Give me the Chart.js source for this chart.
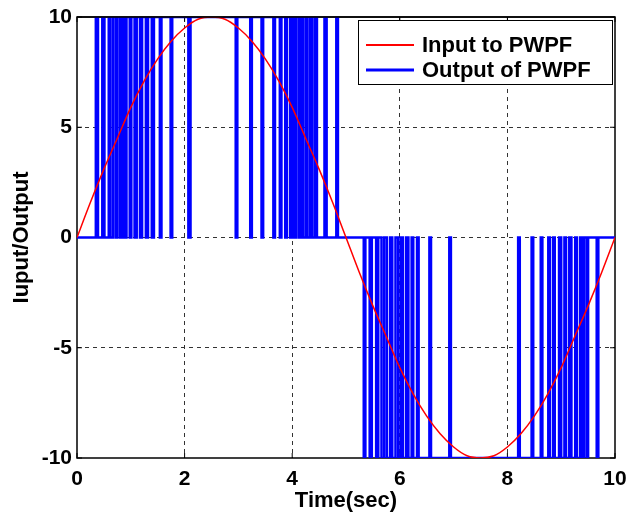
<!DOCTYPE html>
<html>
<head>
<meta charset="utf-8">
<script src="https://cdn.jsdelivr.net/npm/chart.js@4/dist/chart.umd.min.js"></script>
<style>
  html, body { margin: 0; padding: 0; background: #fff; }
</style>
</head>
<body>
<canvas id="canvas" width="626" height="519"></canvas>
<script>
// Input to PWPF, every 0.25 s
var inputTime = [0, 0.25, 0.5, 0.75, 1, 1.25, 1.5, 1.75, 2, 2.25, 2.5, 2.75, 3, 3.25, 3.5, 3.75, 4, 4.25, 4.5, 4.75,
                 5, 5.25, 5.5, 5.75, 6, 6.25, 6.5, 6.75, 7, 7.25, 7.5, 7.75, 8, 8.25, 8.5, 8.75, 9, 9.25, 9.5, 9.75, 10];
var inputValue = [0, 1.6, 3.1, 4.5, 5.9, 7.1, 8.1, 8.9, 9.5, 9.9, 10, 9.9, 9.5, 8.9, 8.1, 7.1, 5.9, 4.5, 3.1, 1.6,
                  0, -1.6, -3.1, -4.5, -5.9, -7.1, -8.1, -8.9, -9.5, -9.9, -10, -9.9, -9.5, -8.9, -8.1, -7.1, -5.9, -4.5, -3.1, -1.6, 0];

// Output of PWPF: on-times of the positive (+10) and negative (-10) pulses
var posStart = [0.35, 0.47, 0.59, 0.67, 0.75, 0.84, 0.92, 1.01, 1.11, 1.21, 1.32, 1.43, 1.57, 1.77, 2.11,
                2.98, 3.25, 3.46, 3.68, 3.80, 3.90, 4.00, 4.08, 4.16, 4.25, 4.33, 4.42, 4.60, 4.82];
var posEnd   = [0.39, 0.51, 0.62, 0.72, 0.80, 0.88, 0.98, 1.07, 1.17, 1.28, 1.39, 1.54, 1.74, 2.07, 2.95,
                3.22, 3.43, 3.65, 3.77, 3.87, 3.96, 4.04, 4.13, 4.20, 4.28, 4.37, 4.46, 4.64, 4.85];
var negStart = [5.33, 5.44, 5.56, 5.66, 5.76, 5.86, 5.97, 6.06, 6.16, 6.25, 6.35, 6.58, 6.95,
                8.23, 8.48, 8.65, 8.79, 8.88, 9.00, 9.09, 9.19, 9.29, 9.38, 9.47, 9.66];
var negEnd   = [5.36, 5.48, 5.60, 5.71, 5.82, 5.92, 6.02, 6.12, 6.22, 6.32, 6.55, 6.92, 8.20,
                8.45, 8.62, 8.76, 8.85, 8.96, 9.06, 9.15, 9.26, 9.35, 9.42, 9.50, 9.69];
var pulseHigh = 10;
var pulseLow = -10;

var xTicks = [0, 2, 4, 6, 8, 10];
var yTicks = [-10, -5, 0, 5, 10];
var seriesNames = ['Input to PWPF', 'Output of PWPF'];

var FONT = 'Liberation Sans, Arial, Helvetica, sans-serif';

function inputPoints() {
  var pts = [];
  for (var i = 0; i < inputTime.length; i++) pts.push({ x: inputTime[i], y: inputValue[i] });
  return pts;
}

// turn the on-times into a square wave
function outputPoints() {
  var pts = [{ x: 0, y: 0 }];
  function addPulses(starts, ends, level) {
    for (var i = 0; i < starts.length; i++) {
      pts.push({ x: starts[i], y: 0 }, { x: starts[i], y: level },
               { x: ends[i], y: level }, { x: ends[i], y: 0 });
    }
  }
  addPulses(posStart, posEnd, pulseHigh);
  addPulses(negStart, negEnd, pulseLow);
  pts.push({ x: 10, y: 0 });
  return pts;
}

// Box round the plot with small inward ticks, like matlab
var framePlugin = {
  id: 'frame',
  beforeDatasetsDraw: function (chart) {
    var ctx = chart.ctx, a = chart.chartArea;
    var sx = chart.scales.x, sy = chart.scales.y;
    ctx.save();
    ctx.strokeStyle = '#000';
    ctx.lineWidth = 1.5;
    ctx.strokeRect(a.left, a.top, a.right - a.left, a.bottom - a.top);
    ctx.lineWidth = 1;
    ctx.beginPath();
    xTicks.forEach(function (v) {
      var px = sx.getPixelForValue(v);
      ctx.moveTo(px, a.bottom); ctx.lineTo(px, a.bottom - 5);
      ctx.moveTo(px, a.top); ctx.lineTo(px, a.top + 5);
    });
    yTicks.forEach(function (v) {
      var py = sy.getPixelForValue(v);
      ctx.moveTo(a.left, py); ctx.lineTo(a.left + 5, py);
      ctx.moveTo(a.right, py); ctx.lineTo(a.right - 5, py);
    });
    ctx.stroke();
    ctx.restore();
  },
  afterDatasetsDraw: function (chart) {
    var ctx = chart.ctx, a = chart.chartArea;
    ctx.save();
    // top edge sits over the pulses
    ctx.strokeStyle = '#000';
    ctx.lineWidth = 1.5;
    ctx.beginPath();
    ctx.moveTo(a.left, a.top); ctx.lineTo(a.right, a.top);
    ctx.stroke();

    // legend box in the top right corner
    var w = 254, h = 64;
    var x0 = a.right - w - 3, y0 = a.top + 3;
    ctx.fillStyle = '#fff';
    ctx.fillRect(x0, y0, w, h);
    ctx.lineWidth = 1;
    ctx.strokeRect(x0 + 0.5, y0 + 0.5, w, h);
    ctx.font = 'bold 22px ' + FONT;
    ctx.textBaseline = 'middle';
    ctx.textAlign = 'left';
    chart.data.datasets.forEach(function (ds, i) {
      var y = y0 + 25 + i * 25;
      ctx.strokeStyle = ds.borderColor;
      ctx.lineWidth = ds.borderWidth + 0.5;
      ctx.beginPath();
      ctx.moveTo(x0 + 8, y); ctx.lineTo(x0 + 56, y);
      ctx.stroke();
      ctx.fillStyle = '#000';
      ctx.fillText(ds.label, x0 + 64, y + 1);
    });
    ctx.restore();
  }
};

var ctx = document.getElementById('canvas').getContext('2d');
var chart = new Chart(ctx, {
  type: 'line',
  data: {
    datasets: [{
      label: seriesNames[0],
      data: inputPoints(),
      borderColor: '#ff0000',
      borderWidth: 1.5,
      pointRadius: 0,
      fill: false,
      cubicInterpolationMode: 'monotone'
    }, {
      label: seriesNames[1],
      data: outputPoints(),
      borderColor: '#0000ff',
      borderWidth: 2.5,
      pointRadius: 0,
      fill: false,
      tension: 0
    }]
  },
  options: {
    responsive: false,
    animation: false,
    devicePixelRatio: 1,
    layout: { padding: { top: 17, right: 11, left: 0, bottom: 0 } },
    plugins: { legend: { display: false }, tooltip: { enabled: false } },
    scales: {
      x: {
        type: 'linear',
        min: 0, max: 10,
        afterBuildTicks: function (scale) { scale.ticks = xTicks.map(function (v) { return { value: v }; }); },
        afterFit: function (scale) {
          scale.height = 61;
          // don't let the end labels push the plot in
          scale.paddingLeft = 0;
          scale.paddingRight = 0;
        },
        grid: {
          color: function (c) { return (c.tick && (c.tick.value === 0 || c.tick.value === 10)) ? 'rgba(0,0,0,0)' : '#333'; },
          lineWidth: 1,
          drawTicks: false
        },
        border: { display: false, dash: [4, 4] },
        ticks: { color: '#000', padding: 9, font: { family: FONT, size: 21, weight: 'bold' } },
        title: { display: true, text: 'Time(sec)', color: '#000', padding: { top: 0, bottom: 5 },
                 font: { family: FONT, size: 22, weight: 'bold' } }
      },
      y: {
        type: 'linear',
        min: -10, max: 10,
        afterBuildTicks: function (scale) { scale.ticks = yTicks.map(function (v) { return { value: v }; }); },
        afterFit: function (scale) {
          scale.width = 77;
          scale.paddingTop = 0;
          scale.paddingBottom = 0;
        },
        grid: {
          color: function (c) { return (c.tick && Math.abs(c.tick.value) === 10) ? 'rgba(0,0,0,0)' : '#333'; },
          lineWidth: 1,
          drawTicks: false
        },
        border: { display: false, dash: [4, 4] },
        ticks: { color: '#000', padding: 5, font: { family: FONT, size: 21, weight: 'bold' } },
        title: { display: true, text: 'Iuput/Output', color: '#000', padding: { top: 9, bottom: 0 },
                 font: { family: FONT, size: 22, weight: 'bold' } }
      }
    }
  },
  plugins: [framePlugin]
});
</script>
</body>
</html>
